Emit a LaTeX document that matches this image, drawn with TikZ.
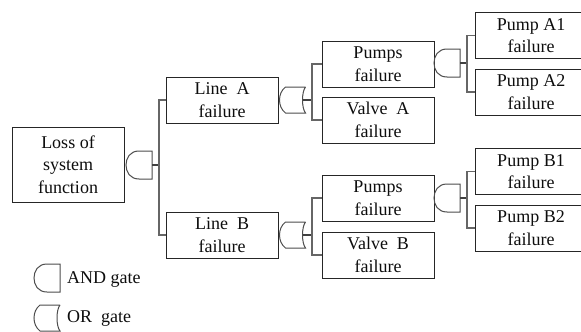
\documentclass[tikz,border=0pt]{standalone}
\usepackage{fontspec}
\setmainfont{Liberation Serif}
\tikzset{
  x=1pt,y=-1pt,
  box/.style={draw=black!85,line width=1pt,minimum width=112pt,inner sep=0pt,align=center,
    font=\fontsize{18}{22.5}\selectfont,text=black!95},
  tall/.style={box,minimum height=75pt},
  mid/.style={box,minimum height=46pt},
  tree/.style={draw=black!60,line width=1.5pt,line join=miter},
  stem/.style={draw=black!75,line width=1.2pt},
  gateline/.style={draw=black!70,line width=1pt},
  legendtext/.style={font=\fontsize{18}{22.5}\selectfont,text=black!95,anchor=west,inner sep=0pt},
  andgate/.pic={
    \draw[gateline] (13,-14) -- (0,-14) .. controls (-9,-14) and (-13,-7) .. (-13,0)
      .. controls (-13,7) and (-9,14) .. (0,14) -- (13,14) -- cycle;
    \coordinate (-out) at (13,0);
  },
  orgate/.pic={
    \draw[gateline] (13,-13) -- (-7,-13) .. controls (-11,-10) and (-13,-5) .. (-13,0)
      .. controls (-13,5) and (-11,10) .. (-7,13) -- (13,13)
      .. controls (9,8) and (9,-8) .. (13,-13);
    \coordinate (-out) at (10,0);
  }
}
\begin{document}
\begin{tikzpicture}
\useasboundingbox (0,0) rectangle (581,332);
\clip (0,0) rectangle (581,332);
\node[tall] (loss) at (68,164.5) {Loss of\\system\\function};
\node[mid] (lineA) at (222,100) {Line\ \ A\\failure};
\node[mid] (lineB) at (222,235) {Line\ \ B\\failure};
\node[mid] (pumpsA) at (378,64) {Pumps\\failure};
\node[mid] (valveA) at (378,120) {Valve\ \ A\\failure};
\node[mid] (pumpsB) at (378,198) {Pumps\\failure};
\node[mid] (valveB) at (378,255) {Valve\ \ B\\failure};
\node[mid] (a1) at (531,35.5) {Pump\ A1\\failure};
\node[mid] (a2) at (531,92) {Pump\ A2\\failure};
\node[mid] (b1) at (531,171.5) {Pump\ B1\\failure};
\node[mid] (b2) at (531,228) {Pump\ B2\\failure};

\pic (g0) at (139,165) {andgate};
\pic (g1) at (292.5,100) {orgate};
\pic (g2) at (292.5,235) {orgate};
\pic (g3) at (447,63) {andgate};
\pic (g4) at (447,198) {andgate};

\coordinate (j0) at (159,165);
\coordinate (j1) at (312,100);
\coordinate (j2) at (312,235);
\coordinate (j3) at (467,63);
\coordinate (j4) at (467,198);

\draw[stem] (g0-out) -- (j0);
\draw[stem] (g1-out) -- (j1);
\draw[stem] (g2-out) -- (j2);
\draw[stem] (g3-out) -- (j3);
\draw[stem] (g4-out) -- (j4);

\draw[tree] (lineA.west) -| (j0) |- (lineB.west);
\draw[tree] (pumpsA.west) -| (j1) |- (valveA.west);
\draw[tree] (pumpsB.west) -| (j2) |- (valveB.west);
\draw[tree] (a1.west) -| (j3) |- (a2.west);
\draw[tree] (b1.west) -| (j4) |- (b2.west);

\pic (lg1) at (47,278) {andgate};
\pic (lg2) at (47,318) {orgate};
\node[legendtext] (t1) at (67,279) {AND gate};
\node[legendtext] (t2) at (67,318) {OR\ \ gate};
\end{tikzpicture}
\end{document}
